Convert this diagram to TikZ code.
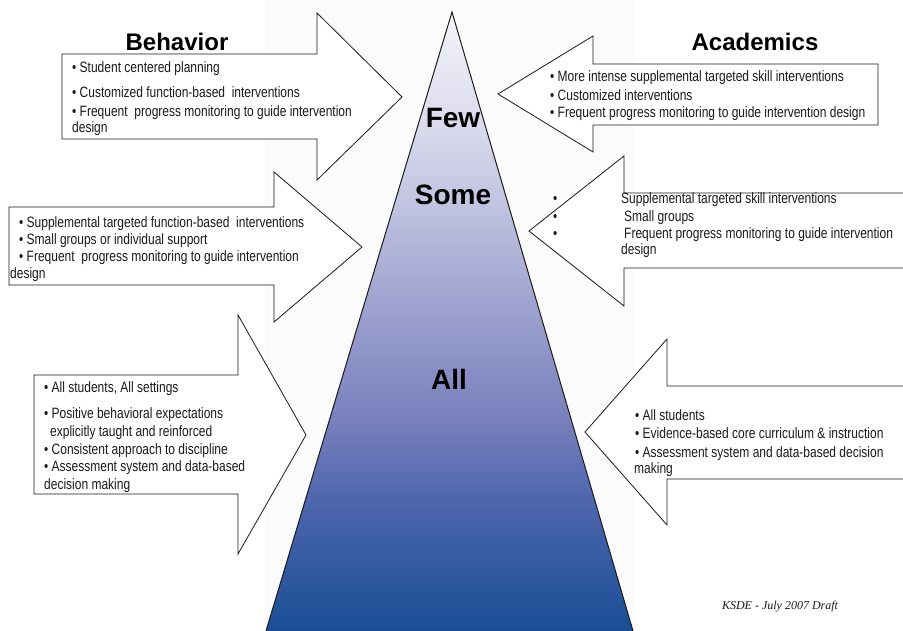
\documentclass[tikz,border=0pt]{standalone}
\usepackage{fontspec}
\setmainfont{Liberation Sans}
\newfontfamily\narrowfont[FakeStretch=0.8]{Liberation Sans}
\newfontfamily\serifit{Liberation Serif}
\definecolor{pyrA}{HTML}{F4F4FA}
\definecolor{pyrB}{HTML}{DCDCEE}
\definecolor{pyrC}{HTML}{C4C6E2}
\definecolor{pyrD}{HTML}{A0A4D0}
\definecolor{pyrE}{HTML}{7880BC}
\definecolor{pyrF}{HTML}{4E66AE}
\definecolor{pyrG}{HTML}{1A4E94}
\definecolor{bgpanel}{HTML}{FBFBFC}
\definecolor{ink}{HTML}{1A1A1A}
\pgfdeclareverticalshading{pyrshade}{100bp}{color(0bp)=(pyrG); color(25bp)=(pyrG); color(35.6bp)=(pyrF); color(42bp)=(pyrE); color(51.7bp)=(pyrD); color(60.2bp)=(pyrC); color(66.3bp)=(pyrB); color(75bp)=(pyrA); color(100bp)=(pyrA)}
\tikzset{
  arrowshape/.style={draw=ink, line width=0.8bp, fill=white, line join=miter},
  bodytext/.style={anchor=base west, inner sep=0pt, text=ink, font={\narrowfont\fontsize{15bp}{18bp}\selectfont}},
  headtext/.style={inner sep=0pt, font={\bfseries\fontsize{24bp}{28bp}\selectfont}},
  tiertext/.style={inner sep=0pt, font={\bfseries\fontsize{28bp}{32bp}\selectfont}},
  notetext/.style={inner sep=0pt, text=ink, font={\serifit\itshape\fontsize{12bp}{14bp}\selectfont}}
}
\begin{document}
\begin{tikzpicture}[x=1bp, y=-1bp]
\useasboundingbox[fill=white] (0,0) rectangle (903,631);
% light panel behind pyramid
\fill[bgpanel] (265,0) rectangle (634,631);
% pyramid
\shade[shading=pyrshade] (452,12) -- (633,631) -- (266,631) -- cycle;
\draw[ink, line width=1bp, line join=miter] (266,631) -- (452,12) -- (633,631);
\node[tiertext] (few) at (453,118) {Few};
\node[tiertext] (some) at (453,195) {Some};
\node[tiertext] (all) at (449,379) {All};

% headings
\node[headtext] (beh) at (177,42) {Behavior};
\node[headtext] (acad) at (755,42) {Academics};

% Behavior arrows
\draw[arrowshape] (62,54) -- (317,54) -- (317,13) -- (402,97) -- (317,180) -- (317,139) -- (62,139) -- cycle;
\draw[arrowshape] (9,207) -- (274,207) -- (274,172) -- (362,247) -- (274,322) -- (274,285) -- (9,285) -- cycle;
\draw[arrowshape] (34,375) -- (238,375) -- (238,315) -- (306,435) -- (238,554) -- (238,494) -- (34,494) -- cycle;

% Academics arrows
\draw[arrowshape] (878,64) -- (593,64) -- (593,36) -- (498,94) -- (593,152) -- (593,125) -- (878,125) -- cycle;
\draw[arrowshape] (910,193) -- (624,193) -- (624,156) -- (529,231) -- (624,306) -- (624,268) -- (910,268);
\draw[arrowshape] (910,386) -- (667,386) -- (667,339) -- (585,432) -- (667,525) -- (667,479) -- (910,479);

% Behavior texts
\node[bodytext] (t1a) at (72,73) {• Student centered planning};
\node[bodytext] (t1b) at (72,98) {• Customized function-based~ interventions};
\node[bodytext] (t1c) at (72,117) {• Frequent~ progress monitoring to guide intervention};
\node[bodytext] (t1d) at (72,133) {design};

\node[bodytext] (t2a) at (19,228) {• Supplemental targeted function-based~ interventions};
\node[bodytext] (t2b) at (19,245) {• Small groups or individual support};
\node[bodytext] (t2c) at (19,262) {• Frequent~ progress monitoring to guide intervention};
\node[bodytext] (t2d) at (10,278) {design};

\node[bodytext] (t3a) at (44,392) {• All students, All settings};
\node[bodytext] (t3b) at (44,418) {• Positive behavioral expectations};
\node[bodytext] (t3c) at (50,436) {explicitly taught and reinforced};
\node[bodytext] (t3d) at (44,454) {• Consistent approach to discipline};
\node[bodytext] (t3e) at (44,471) {• Assessment system and data-based};
\node[bodytext] (t3f) at (44,489) {decision making};

% Academics texts
\node[bodytext] (t4a) at (550,82) {• More intense supplemental targeted skill interventions};
\node[bodytext] (t4b) at (550,101) {• Customized interventions};
\node[bodytext] (t4c) at (550,118) {• Frequent progress monitoring to guide intervention design};

\node[bodytext] (t5ab) at (553,204) {•};
\node[bodytext] (t5a) at (621,204) {Supplemental targeted skill interventions};
\node[bodytext] (t5bb) at (553,222) {•};
\node[bodytext] (t5b) at (624,222) {Small groups};
\node[bodytext] (t5cb) at (553,239) {•};
\node[bodytext] (t5c) at (624,239) {Frequent progress monitoring to guide intervention};
\node[bodytext] (t5d) at (621,255) {design};

\node[bodytext] (t6a) at (635,420) {• All students};
\node[bodytext] (t6b) at (635,438) {• Evidence-based core curriculum \& instruction};
\node[bodytext] (t6c) at (635,457) {• Assessment system and data-based decision};
\node[bodytext] (t6d) at (634,473) {making};

% footnote
\node[notetext] (note) at (780,607) {KSDE - July 2007 Draft};
\end{tikzpicture}
\end{document}
